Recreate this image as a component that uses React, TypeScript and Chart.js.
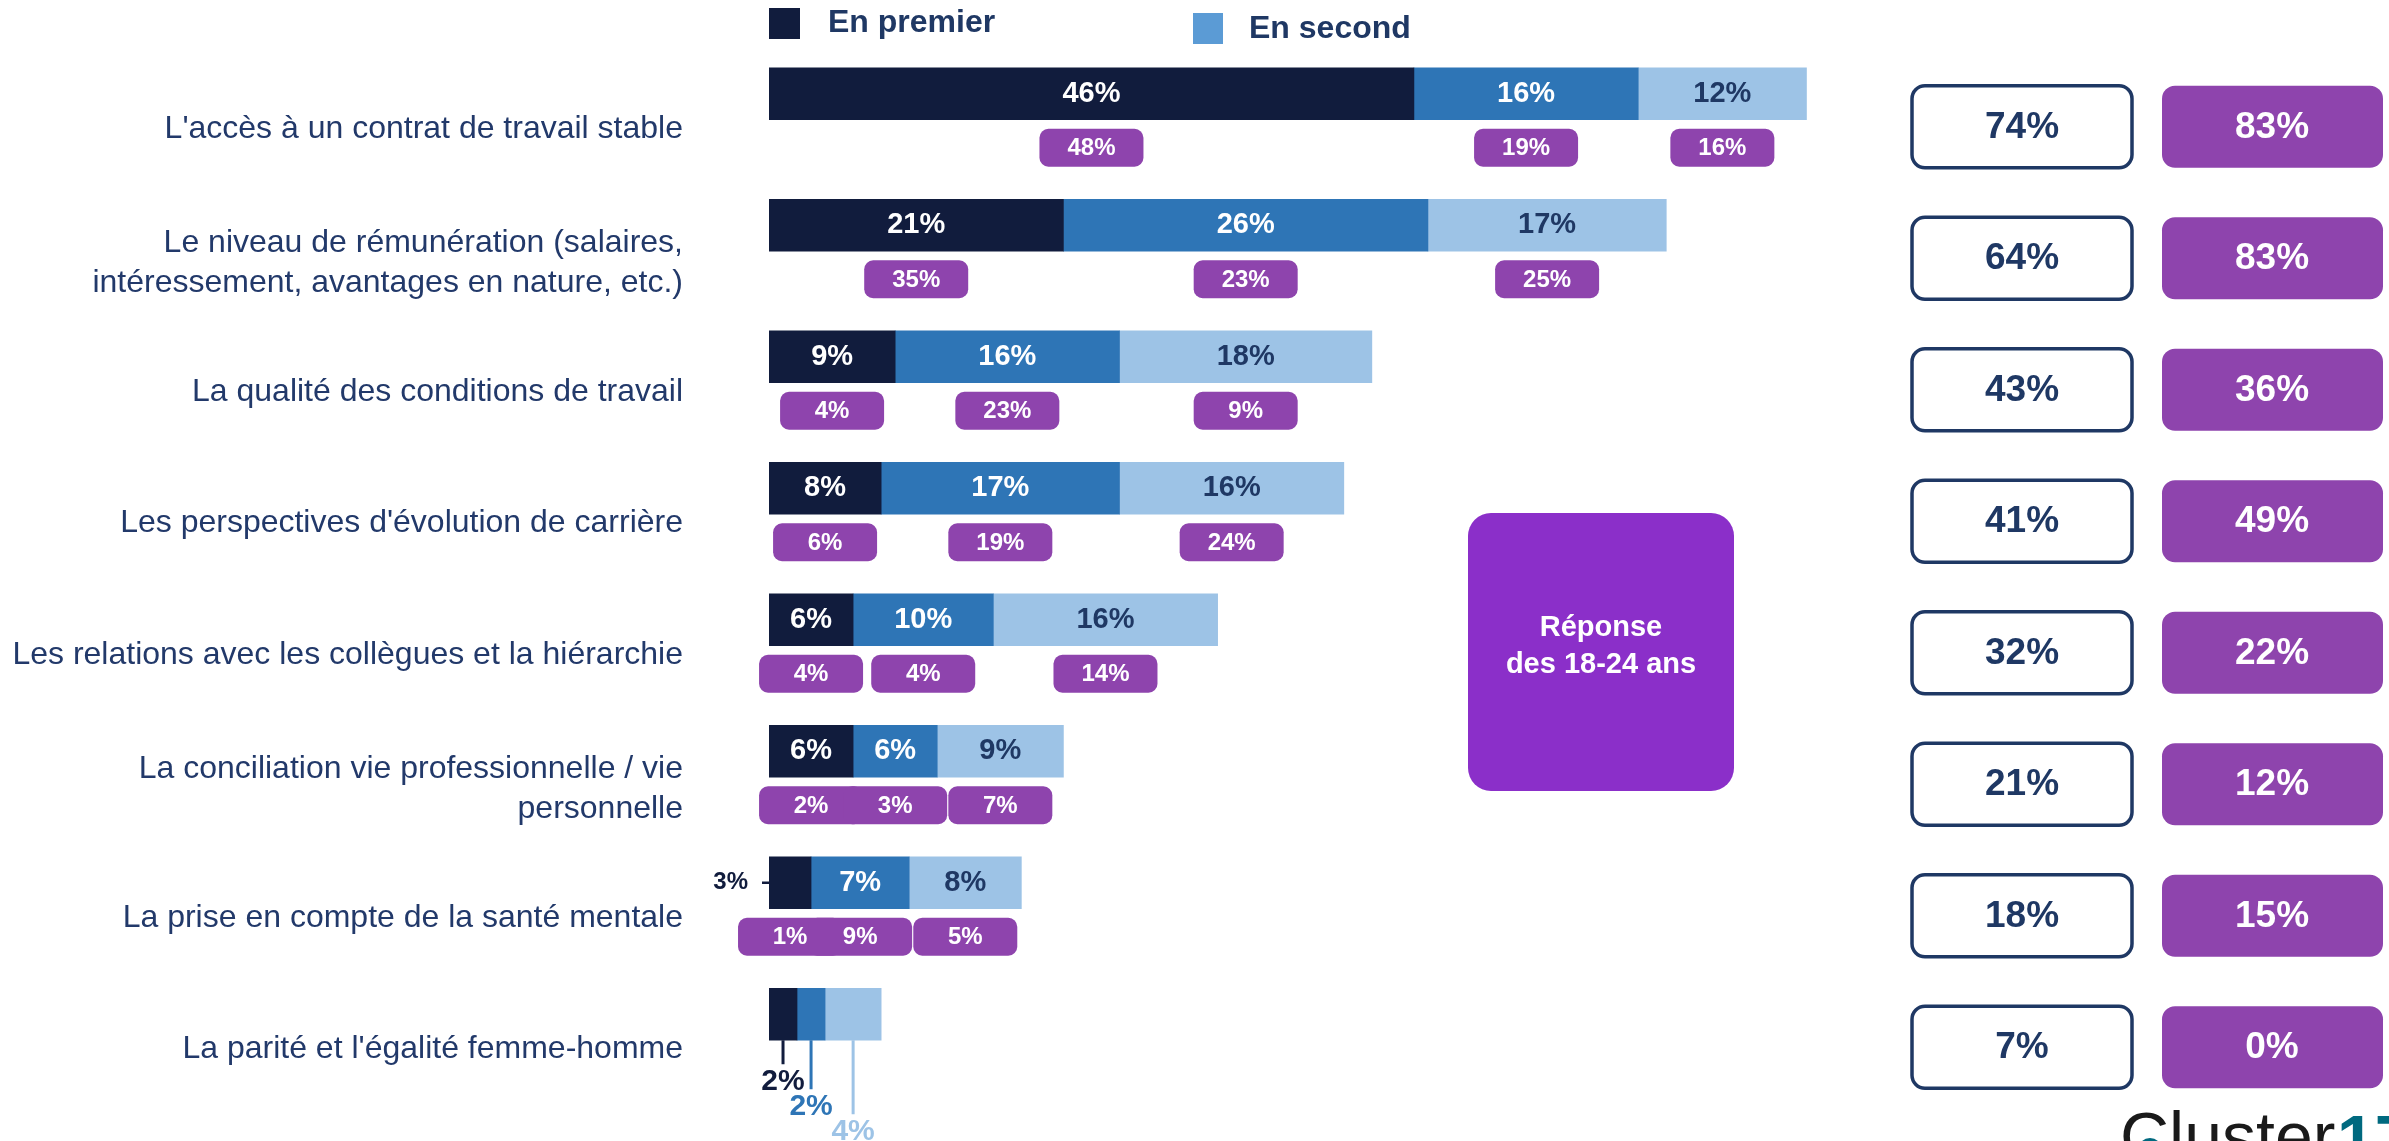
import React, { useEffect, useRef } from "react";
import { Chart, registerables } from "chart.js";

Chart.register(...registerables);

const CATEGORIES: (string | string[])[] = [
  "L'accès à un contrat de travail stable",
  ["Le niveau de rémunération (salaires,", "intéressement, avantages en nature, etc.)"],
  "La qualité des conditions de travail",
  "Les perspectives d'évolution de carrière",
  "Les relations avec les collègues et la hiérarchie",
  ["La conciliation vie professionnelle / vie", "personnelle"],
  "La prise en compte de la santé mentale",
  "La parité et l'égalité femme-homme",
];

const EN_PREMIER = [46, 21, 9, 8, 6, 6, 3, 2];
const EN_SECOND = [16, 26, 16, 17, 10, 6, 7, 2];
const EN_TROISIEME = [12, 17, 18, 16, 16, 9, 8, 4];

const JEUNES_PREMIER = [48, 35, 4, 6, 4, 2, 1, null];
const JEUNES_SECOND = [19, 23, 23, 19, 4, 3, 9, null];
const JEUNES_TROISIEME = [16, 25, 9, 24, 14, 7, 5, null];

const TOTAL_ENSEMBLE = [74, 64, 43, 41, 32, 21, 18, 7];
const TOTAL_JEUNES = [83, 83, 36, 49, 22, 12, 15, 0];

const LEGEND_LABELS = ["En premier", "En second"];
const BOX_TEXT = ["Réponse", "des 18-24 ans"];

const C_DARK = "#111c3d";
const C_MID = "#2e75b6";
const C_LIGHT = "#9dc3e6";
const C_LEGEND2 = "#5b9bd5";
const C_NAVY = "#1f3864";
const C_LABEL = "#22396a";
const C_PILL = "#8e44ad";
const C_BIGBOX = "#8b2fc9";
const C_TEAL = "#00697f";
const FONT = '"Liberation Sans", Arial, Helvetica, sans-serif';
const SEG_COLORS = [C_DARK, C_MID, C_LIGHT];

const overlayPlugin = {
  id: "overlay",
  afterDatasetsDraw(chart: any) {
    const ctx: CanvasRenderingContext2D = chart.ctx;
    const yScale = chart.scales.y;
    const youth = [JEUNES_PREMIER, JEUNES_SECOND, JEUNES_TROISIEME];
    const vals = [EN_PREMIER, EN_SECOND, EN_TROISIEME];
    ctx.save();

    // Legend
    ctx.fillStyle = C_DARK;
    ctx.fillRect(769, 8, 31, 31);
    ctx.fillStyle = C_LEGEND2;
    ctx.fillRect(1193, 13, 30, 31);
    ctx.font = `700 32px ${FONT}`;
    ctx.fillStyle = C_NAVY;
    ctx.textAlign = "left";
    ctx.textBaseline = "middle";
    ctx.fillText(LEGEND_LABELS[0], 828, 23);
    ctx.fillText(LEGEND_LABELS[1], 1249, 29);

    for (let i = 0; i < CATEGORIES.length; i++) {
      const yc = yScale.getPixelForValue(i);
      const rowY = yc + 33;

      // category label
      ctx.fillStyle = C_LABEL;
      ctx.font = `400 32px ${FONT}`;
      ctx.textAlign = "right";
      ctx.textBaseline = "middle";
      const lab = CATEGORIES[i];
      if (Array.isArray(lab)) {
        const c = rowY + 5;
        ctx.fillText(lab[0], 683, c - 20);
        ctx.fillText(lab[1], 683, c + 20);
      } else {
        ctx.fillText(lab, 683, rowY + 2);
      }

      // segments
      const rowVals = vals.map((v) => v[i]);
      const leaderMode = rowVals.every((v) => v < 5);
      for (let d = 0; d < 3; d++) {
        const el: any = chart.getDatasetMeta(d).data[i];
        const x0 = Math.min(el.base, el.x);
        const x1 = Math.max(el.base, el.x);
        const cx = (x0 + x1) / 2;
        const bottom = el.y + el.height / 2;
        const v = rowVals[d];
        const txt = `${v}%`;
        if (leaderMode) {
          const lineEnd = bottom + 24 + 25 * d;
          ctx.strokeStyle = SEG_COLORS[d];
          ctx.lineWidth = 3;
          ctx.beginPath();
          ctx.moveTo(cx, bottom);
          ctx.lineTo(cx, lineEnd);
          ctx.stroke();
          ctx.fillStyle = SEG_COLORS[d];
          ctx.font = `700 30px ${FONT}`;
          ctx.textAlign = "center";
          ctx.textBaseline = "middle";
          ctx.fillText(txt, cx, lineEnd + 17);
        } else if (v < 5) {
          ctx.strokeStyle = C_DARK;
          ctx.lineWidth = 2.5;
          ctx.beginPath();
          ctx.moveTo(x0 - 7, el.y);
          ctx.lineTo(x0, el.y);
          ctx.stroke();
          ctx.fillStyle = C_DARK;
          ctx.font = `700 24px ${FONT}`;
          ctx.textAlign = "right";
          ctx.textBaseline = "middle";
          ctx.fillText(txt, x0 - 21, el.y);
        } else {
          ctx.fillStyle = d === 2 ? C_NAVY : "#ffffff";
          ctx.font = `700 29px ${FONT}`;
          ctx.textAlign = "center";
          ctx.textBaseline = "middle";
          ctx.fillText(txt, cx, el.y);
        }

        // youth pill
        const yv = youth[d][i];
        if (yv !== null && yv !== undefined) {
          const pw = 104;
          const ph = 38;
          const top = el.y + 35;
          ctx.fillStyle = C_PILL;
          ctx.beginPath();
          (ctx as any).roundRect(cx - pw / 2, top, pw, ph, 9);
          ctx.fill();
          ctx.fillStyle = "#ffffff";
          ctx.font = `700 24px ${FONT}`;
          ctx.textAlign = "center";
          ctx.textBaseline = "middle";
          ctx.fillText(`${yv}%`, cx, top + ph / 2 + 1);
        }
      }

      // right boxes
      const bh = 82;
      ctx.strokeStyle = C_NAVY;
      ctx.lineWidth = 3.5;
      ctx.fillStyle = "#ffffff";
      ctx.beginPath();
      (ctx as any).roundRect(1912, rowY - bh / 2, 220, bh, 13);
      ctx.fill();
      ctx.stroke();
      ctx.fillStyle = C_NAVY;
      ctx.font = `700 37px ${FONT}`;
      ctx.textAlign = "center";
      ctx.textBaseline = "middle";
      ctx.fillText(`${TOTAL_ENSEMBLE[i]}%`, 2022, rowY + 1);

      ctx.fillStyle = C_PILL;
      ctx.beginPath();
      (ctx as any).roundRect(2162, rowY - bh / 2, 221, bh, 13);
      ctx.fill();
      ctx.fillStyle = "#ffffff";
      ctx.fillText(`${TOTAL_JEUNES[i]}%`, 2272, rowY + 1);
    }

    // big box
    ctx.fillStyle = C_BIGBOX;
    ctx.beginPath();
    (ctx as any).roundRect(1468, 513, 266, 278, 23);
    ctx.fill();
    ctx.fillStyle = "#ffffff";
    ctx.font = `700 29px ${FONT}`;
    ctx.textAlign = "center";
    ctx.textBaseline = "middle";
    ctx.fillText(BOX_TEXT[0], 1601, 628);
    ctx.fillText(BOX_TEXT[1], 1601, 665);

    // logo (partially visible)
    ctx.textAlign = "left";
    ctx.textBaseline = "alphabetic";
    ctx.fillStyle = "#1a1a1a";
    ctx.font = `300 68px ${FONT}`;
    ctx.fillText("Cluster", 2120, 1160);
    ctx.fillStyle = C_TEAL;
    ctx.font = `700 68px ${FONT}`;
    ctx.fillText("17", 2337, 1163);
    ctx.beginPath();
    ctx.arc(2150, 1150, 12, 0, Math.PI * 2);
    ctx.fill();

    ctx.restore();
  },
};

export default function App() {
  const canvasRef = useRef<HTMLCanvasElement | null>(null);

  useEffect(() => {
    if (!canvasRef.current) return;
    const chart = new Chart(canvasRef.current, {
      type: "bar",
      data: {
        labels: CATEGORIES as any,
        datasets: [
          { label: "En premier", data: EN_PREMIER, backgroundColor: C_DARK, barThickness: 52, borderWidth: 0 },
          { label: "En second", data: EN_SECOND, backgroundColor: C_MID, barThickness: 52, borderWidth: 0 },
          { label: "En troisième", data: EN_TROISIEME, backgroundColor: C_LIGHT, barThickness: 52, borderWidth: 0 },
        ],
      },
      options: {
        indexAxis: "y",
        responsive: false,
        animation: false,
        devicePixelRatio: 1,
        layout: { padding: { left: 769, right: 218, top: 28, bottom: 61 } },
        scales: {
          x: { stacked: true, min: 0, max: 100, display: false },
          y: { stacked: true, display: false },
        },
        plugins: {
          legend: { display: false },
          tooltip: { enabled: false },
        },
      },
      plugins: [overlayPlugin],
    } as any);
    return () => chart.destroy();
  }, []);

  return (
    <div
      style={{
        position: "fixed",
        left: 0,
        top: 0,
        width: 2389,
        height: 1141,
        overflow: "hidden",
        background: "#ffffff",
      }}
    >
      <canvas ref={canvasRef} width={2389} height={1141} style={{ display: "block", width: 2389, height: 1141 }} />
    </div>
  );
}
